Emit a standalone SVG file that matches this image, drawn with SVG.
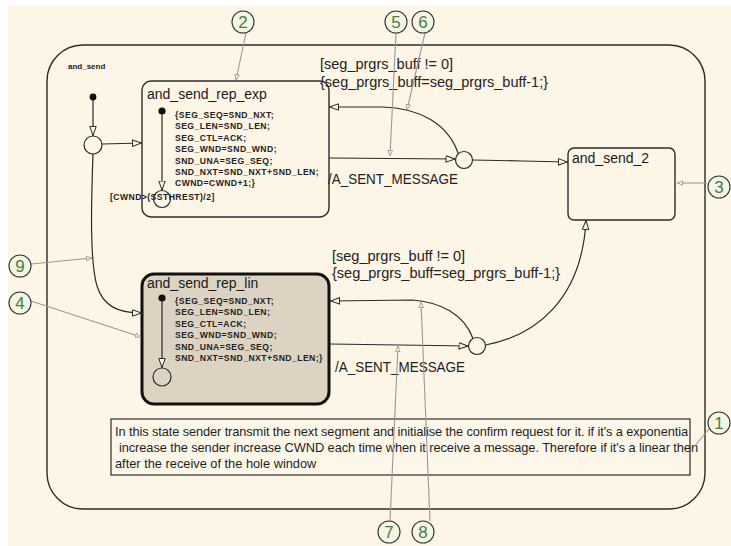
<svg xmlns="http://www.w3.org/2000/svg" width="731" height="546" viewBox="0 0 731 546">
  <style>
    .ln { fill: none; stroke: #2b2b2b; stroke-width: 1.2; }
    .note-ln { fill: none; stroke: #9a9a94; stroke-width: 1.1; }
    .state { fill: #fdf5e6; stroke: #2b2b2b; stroke-width: 1.4; }
    .title { font-family: "Liberation Sans", Arial, sans-serif; font-size: 14px; fill: #1a1a1a; }
    .act { font-family: "Liberation Sans", Arial, sans-serif; font-size: 8.6px; font-weight: bold; letter-spacing: 0.45px; fill: #222; }
    .lbl { font-family: "Liberation Sans", Arial, sans-serif; font-size: 14.5px; fill: #222; }
    .num { font-family: "Liberation Sans", Arial, sans-serif; font-size: 17px; fill: #4d7a48; text-anchor: middle; }
    .tag { fill: #f4f6e4; stroke: #333; stroke-width: 1.1; }
    .junc { fill: #fdf5e6; stroke: #2b2b2b; stroke-width: 1.2; }
    .dot { fill: #111; }
    .memo { font-family: "Liberation Sans", Arial, sans-serif; font-size: 12.8px; fill: #1e1e1e; }
  </style>
  <defs>
    <marker id="open" viewBox="0 0 10 8" refX="10" refY="4" markerWidth="10" markerHeight="8" markerUnits="userSpaceOnUse" orient="auto">
      <path d="M0.5,0.8 L9.5,4 L0.5,7.2 z" fill="#fdf5e6" stroke="#2b2b2b" stroke-width="1"/>
    </marker>
    <marker id="tick" viewBox="0 0 6 6" refX="6" refY="3" markerWidth="6" markerHeight="6" markerUnits="userSpaceOnUse" orient="auto">
      <path d="M0.5,0.8 L5.5,3 L0.5,5.2 z" fill="#fdf5e6" stroke="#9a9a94" stroke-width="0.9"/>
    </marker>
  </defs>

  <!-- canvas -->
  <rect x="0" y="0" width="731" height="546" fill="#ffffff"/>
  <rect x="8" y="5" width="723" height="541" fill="#fdf5e6"/>

  <!-- parent state -->
  <g id="and_send">
    <rect x="47" y="45" width="658" height="464" rx="36" ry="36" class="state" fill="none"/>
    <text x="68" y="69" font-family="Liberation Sans, Arial, sans-serif" font-size="8" font-weight="bold" fill="#222">and_send</text>
  </g>

  <g id="and_send_rep_exp">
    <rect x="142" y="81" width="187" height="136" rx="9" ry="9" class="state"/>
    <text x="147" y="99" class="title">and_send_rep_exp</text>
    <text class="act">
      <tspan x="175" y="118">{SEG_SEQ=SND_NXT;</tspan>
      <tspan x="175" y="129.4">SEG_LEN=SND_LEN;</tspan>
      <tspan x="175" y="140.8">SEG_CTL=ACK;</tspan>
      <tspan x="175" y="152.2">SEG_WND=SND_WND;</tspan>
      <tspan x="175" y="163.6">SND_UNA=SEG_SEQ;</tspan>
      <tspan x="175" y="175">SND_NXT=SND_NXT+SND_LEN;</tspan>
      <tspan x="175" y="186.4">CWND=CWND+1;}</tspan>
    </text>
    <circle cx="162" cy="111" r="3.6" class="dot"/>
    <circle cx="162" cy="199" r="8.5" class="junc"/>
    <text x="110" y="200" class="act">[CWND&gt;(SSTHREST)/2]</text>
  </g>

  <g id="and_send_rep_lin">
    <rect x="142" y="274" width="187" height="130" rx="12" ry="12" fill="#dcd3c2" stroke="#111" stroke-width="3"/>
    <text x="147" y="288" class="title">and_send_rep_lin</text>
    <text class="act">
      <tspan x="175" y="304">{SEG_SEQ=SND_NXT;</tspan>
      <tspan x="175" y="315.4">SEG_LEN=SND_LEN;</tspan>
      <tspan x="175" y="326.8">SEG_CTL=ACK;</tspan>
      <tspan x="175" y="338.2">SEG_WND=SND_WND;</tspan>
      <tspan x="175" y="349.6">SND_UNA=SEG_SEQ;</tspan>
      <tspan x="175" y="361">SND_NXT=SND_NXT+SND_LEN;}</tspan>
    </text>
    <circle cx="162" cy="298" r="3.6" class="dot"/>
    <circle cx="162" cy="377" r="9" fill="#dcd3c2" stroke="#2b2b2b" stroke-width="1.2"/>
  </g>

  <g id="and_send_2">
    <rect x="568" y="148" width="107" height="72" rx="6" ry="6" class="state"/>
    <text x="572" y="163" class="title">and_send_2</text>
  </g>

  <g id="note">
    <rect x="111" y="419" width="579" height="56" fill="#fdf7ea" stroke="#2b2b2b" stroke-width="1.2"/>
    <text x="115" y="436" class="memo" textLength="573" lengthAdjust="spacing">In this state sender transmit the next segment and initialise the confirm request for it. if it's a exponentia</text>
    <text x="119" y="452" class="memo" textLength="579" lengthAdjust="spacing">increase the sender increase CWND each time when it receive a message. Therefore if it's a linear then</text>
    <text x="115" y="468" class="memo">after the receive of the hole window</text>
  </g>

  <!-- junctions -->
  <g id="junctions">
    <circle cx="93" cy="97" r="3.4" class="dot"/>
    <circle cx="93" cy="145" r="9" class="junc"/>
    <circle cx="464" cy="160" r="8.5" class="junc"/>
    <circle cx="477" cy="346" r="8.5" class="junc"/>
  </g>

  <!-- transitions -->
  <g id="connectors">
    <path class="ln" d="M93,100 L93,136" marker-end="url(#open)"/>
    <path class="ln" d="M102,144 L142,143" marker-end="url(#open)"/>
    <path class="ln" d="M93,154 C91,210 90,262 97,286 C103,305 116,313 142,313" marker-end="url(#open)"/>
    <path class="ln" d="M162,114 L162,190.5" marker-end="url(#open)"/>
    <path class="ln" d="M162,301 L162,368" marker-end="url(#open)"/>

    <path class="ln" d="M329,158 L455.5,159" marker-end="url(#open)"/>
    <path class="ln" d="M458,153 C448,124 420,108 382,107 L329,107" marker-end="url(#open)"/>
    <path class="ln" d="M472.5,160 L522,161 L568,162" marker-end="url(#open)"/>

    <path class="ln" d="M330,344 L468.5,346" marker-end="url(#open)"/>
    <path class="ln" d="M473,338.5 C464,314 440,302 412,300 L330,301" marker-end="url(#open)"/>
    <path class="ln" d="M485.5,345 C535,336 582,300 586,220" marker-end="url(#open)"/>

    <text class="lbl" x="320" y="69">[seg_prgrs_buff != 0]</text>
    <text class="lbl" x="320" y="87">{seg_prgrs_buff=seg_prgrs_buff-1;}</text>
    <text class="lbl" x="328" y="184" textLength="130" lengthAdjust="spacingAndGlyphs">/A_SENT_MESSAGE</text>

    <text class="lbl" x="332" y="261">[seg_prgrs_buff != 0]</text>
    <text class="lbl" x="332" y="278">{seg_prgrs_buff=seg_prgrs_buff-1;}</text>
    <text class="lbl" x="335" y="372" textLength="130" lengthAdjust="spacingAndGlyphs">/A_SENT_MESSAGE</text>
  </g>

  <!-- numbered callouts -->
  <g id="callouts">
    <path class="note-ln" d="M246,33 L236,80" marker-end="url(#tick)"/>
    <path class="note-ln" d="M396,33 L390,156" marker-end="url(#tick)"/>
    <path class="note-ln" d="M425,33 L407,110" marker-end="url(#tick)"/>
    <path class="note-ln" d="M707,183 L677,183" marker-end="url(#tick)"/>
    <path class="note-ln" d="M31,264 L92,258" marker-end="url(#tick)"/>
    <path class="note-ln" d="M31,301 L141,337" marker-end="url(#tick)"/>
    <path class="note-ln" d="M390,521 L398,346" marker-end="url(#tick)"/>
    <path class="note-ln" d="M430,521 L421,302" marker-end="url(#tick)"/>
    <path class="note-ln" d="M709,429 L693,448"/>

    <g id="c2"><circle cx="243" cy="22" r="11" class="tag"/><text x="243" y="28" class="num">2</text></g>
    <g id="c5"><circle cx="396" cy="22" r="11" class="tag"/><text x="396" y="28" class="num">5</text></g>
    <g id="c6"><circle cx="423" cy="22" r="11" class="tag"/><text x="423" y="28" class="num">6</text></g>
    <g id="c3"><circle cx="719" cy="187" r="11" class="tag"/><text x="719" y="193" class="num">3</text></g>
    <g id="c9"><circle cx="20" cy="266" r="11" class="tag"/><text x="20" y="272" class="num">9</text></g>
    <g id="c4"><circle cx="20" cy="303" r="11" class="tag"/><text x="20" y="309" class="num">4</text></g>
    <g id="c1"><circle cx="719" cy="423" r="11" class="tag"/><text x="719" y="429" class="num">1</text></g>
    <g id="c7"><circle cx="389" cy="532" r="11" class="tag"/><text x="389" y="538" class="num">7</text></g>
    <g id="c8"><circle cx="423" cy="532" r="11" class="tag"/><text x="423" y="538" class="num">8</text></g>
  </g>
</svg>
